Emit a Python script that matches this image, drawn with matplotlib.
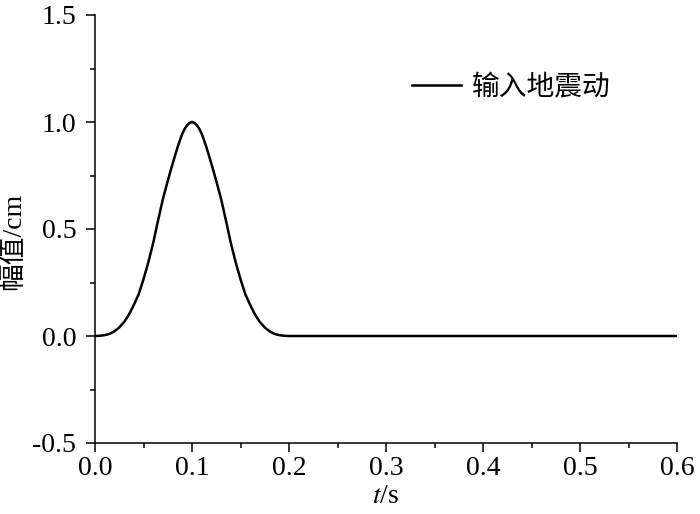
import matplotlib
matplotlib.use("Agg")
import matplotlib.pyplot as plt
from matplotlib.ticker import MultipleLocator

plt.rcParams['font.family'] = ['Liberation Serif', 'Noto Sans CJK SC']
plt.rcParams['mathtext.fontset'] = 'stix'

# time (s) and amplitude (cm)
t = [0.0000, 0.0050, 0.0100, 0.0150, 0.0200, 0.0250, 0.0300, 0.0350, 0.0400, 0.0450,
     0.0500, 0.0550, 0.0600, 0.0650, 0.0700, 0.0750, 0.0800, 0.0850, 0.0875, 0.0900,
     0.0925, 0.0950, 0.0975, 0.1000, 0.1025, 0.1050, 0.1075, 0.1100, 0.1125, 0.1150,
     0.1200, 0.1250, 0.1300, 0.1350, 0.1400, 0.1450, 0.1500, 0.1550, 0.1600, 0.1650,
     0.1700, 0.1750, 0.1800, 0.1850, 0.1900, 0.1950, 0.2000, 0.6000]
amp = [0.000, 0.001, 0.004, 0.010, 0.022, 0.040, 0.065, 0.100, 0.145, 0.195,
       0.265, 0.345, 0.435, 0.540, 0.640, 0.725, 0.805, 0.880, 0.914, 0.945,
       0.968, 0.985, 0.996, 1.000, 0.996, 0.985, 0.968, 0.945, 0.914, 0.880,
       0.805, 0.725, 0.640, 0.540, 0.435, 0.345, 0.265, 0.195, 0.145, 0.100,
       0.065, 0.040, 0.022, 0.010, 0.004, 0.001, 0.000, 0.000]

xticks = [0.0, 0.1, 0.2, 0.3, 0.4, 0.5, 0.6]
yticks = [-0.5, 0.0, 0.5, 1.0, 1.5]

fig = plt.figure(figsize=(7, 5.14), dpi=100)
ax = fig.add_axes([95/700, 1 - 443/514, 582/700, 428/514])

ax.plot(t, amp, color='black', lw=1.8, label='输入地震动')

ax.set_xlim(0, 0.6)
ax.set_ylim(-0.5, 1.5)
ax.set_xticks(xticks)
ax.set_yticks(yticks)
ax.xaxis.set_minor_locator(MultipleLocator(0.05))
ax.yaxis.set_minor_locator(MultipleLocator(0.25))
ax.set_xticklabels([f'{v:.1f}' for v in xticks])
ax.set_yticklabels([f'{v:.1f}' for v in yticks])

for s in ['top', 'right']:
    ax.spines[s].set_visible(False)
for s in ['left', 'bottom']:
    ax.spines[s].set_linewidth(1.1)

ax.tick_params(which='major', direction='out', length=6.5, width=1.1,
               labelsize=20)
ax.tick_params(which='minor', direction='out', length=3.6, width=1.1)
ax.tick_params(axis='y', which='major', pad=7)
ax.tick_params(axis='x', which='major', pad=3)

ax.set_xlabel(r'$t$/s', fontsize=20, labelpad=2)
ax.text(-0.14, (443 - 241) / 428, '幅值/cm', transform=ax.transAxes,
        rotation=90, ha='center', va='center', fontsize=20)

leg = ax.legend(loc='center left', bbox_to_anchor=((412 - 95) / 582, (443 - 88) / 428),
                frameon=False, fontsize=20, handlelength=1.75, handletextpad=0.4,
                borderpad=0, borderaxespad=0)

fig.savefig('out.png', dpi=100)
